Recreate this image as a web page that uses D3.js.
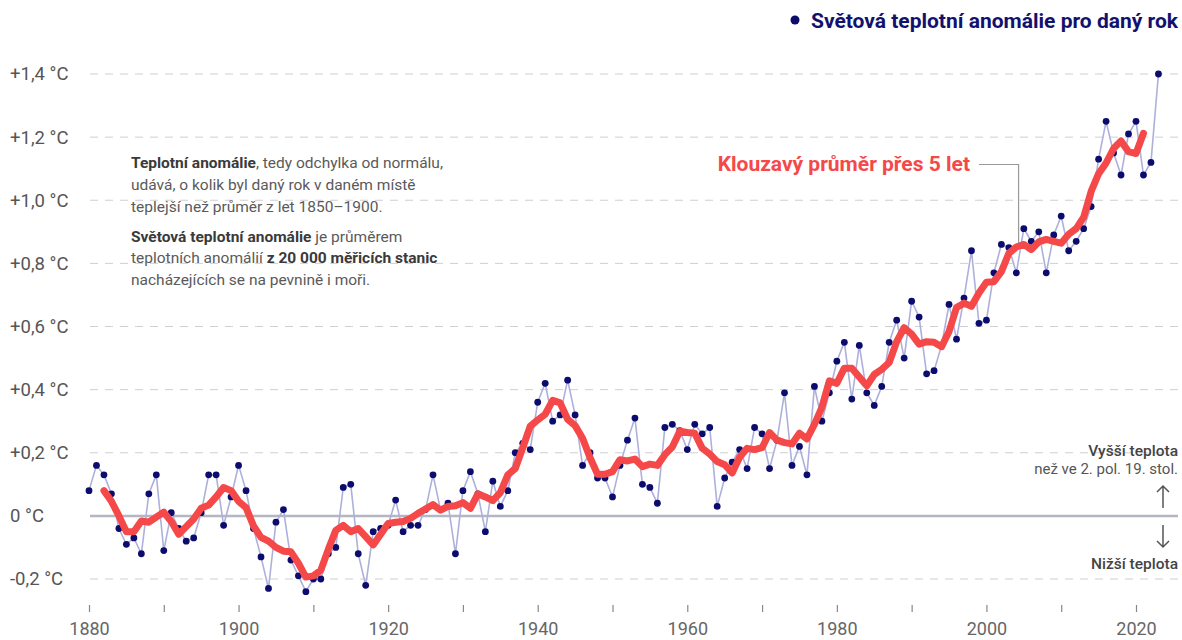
<!DOCTYPE html>
<html>
<head>
<meta charset="utf-8">
<script src="https://cdn.jsdelivr.net/npm/d3@7"></script>
<style>
  body { margin: 0; background: #fff; }
  svg { font-family: Roboto, "Noto Sans", sans-serif; }
</style>
</head>
<body>
<svg id="chart" width="1182" height="640"></svg>
<script>
// years of the annual series
var years = d3.range(1880, 2024);

// annual global anomaly (°C vs. 1850-1900)
var anomaly = [
  0.08, 0.16, 0.13, 0.07, -0.04, -0.09, -0.07, -0.12, 0.07, 0.13,
  -0.11, 0.01, -0.04, -0.08, -0.07, 0.01, 0.13, 0.13, -0.03, 0.06,
  0.16, 0.08, -0.04, -0.13, -0.23, -0.02, 0.02, -0.14, -0.19, -0.24,
  -0.20, -0.20, -0.12, -0.10, 0.09, 0.10, -0.12, -0.22, -0.05, -0.04,
  -0.03, 0.05, -0.05, -0.03, -0.03, 0.02, 0.13, 0.02, 0.04, -0.12,
  0.08, 0.14, 0.07, -0.05, 0.11, 0.03, 0.08, 0.20, 0.23, 0.21,
  0.36, 0.42, 0.30, 0.32, 0.43, 0.32, 0.16, 0.20, 0.12, 0.12,
  0.06, 0.16, 0.24, 0.31, 0.10, 0.09, 0.04, 0.28, 0.29, 0.27,
  0.21, 0.29, 0.26, 0.28, 0.03, 0.12, 0.17, 0.21, 0.15, 0.28,
  0.26, 0.15, 0.24, 0.39, 0.16, 0.22, 0.13, 0.41, 0.30, 0.39,
  0.49, 0.55, 0.37, 0.54, 0.39, 0.35, 0.41, 0.55, 0.62, 0.50,
  0.68, 0.63, 0.45, 0.46, 0.54, 0.67, 0.56, 0.69, 0.84, 0.61,
  0.62, 0.77, 0.86, 0.85, 0.77, 0.91, 0.87, 0.90, 0.77, 0.89,
  0.95, 0.84, 0.87, 0.91, 0.98, 1.13, 1.25, 1.15, 1.08, 1.21,
  1.25, 1.08, 1.12, 1.40
];

// 5-year running mean, 1882-2021
var avgYears = d3.range(1882, 2022);
var avg5 = [
  0.080, 0.046, 0.000, -0.050, -0.050, -0.016, -0.020, -0.004, 0.012, -0.018,
  -0.058, -0.034, -0.010, 0.024, 0.034, 0.060, 0.090, 0.080, 0.046, 0.026,
  -0.032, -0.068, -0.080, -0.100, -0.112, -0.114, -0.150, -0.194, -0.190, -0.172,
  -0.106, -0.046, -0.030, -0.050, -0.040, -0.066, -0.092, -0.058, -0.024, -0.020,
  -0.018, -0.008, 0.008, 0.022, 0.036, 0.018, 0.030, 0.032, 0.042, 0.024,
  0.070, 0.060, 0.048, 0.074, 0.130, 0.150, 0.216, 0.284, 0.304, 0.322,
  0.366, 0.358, 0.306, 0.286, 0.246, 0.184, 0.132, 0.132, 0.140, 0.178,
  0.174, 0.180, 0.156, 0.164, 0.160, 0.194, 0.218, 0.268, 0.264, 0.262,
  0.214, 0.196, 0.172, 0.162, 0.136, 0.186, 0.214, 0.210, 0.216, 0.264,
  0.240, 0.232, 0.228, 0.262, 0.244, 0.290, 0.344, 0.428, 0.420, 0.468,
  0.468, 0.440, 0.412, 0.448, 0.464, 0.486, 0.552, 0.596, 0.576, 0.544,
  0.552, 0.550, 0.536, 0.584, 0.660, 0.674, 0.664, 0.706, 0.740, 0.742,
  0.774, 0.832, 0.852, 0.860, 0.844, 0.868, 0.876, 0.870, 0.864, 0.892,
  0.910, 0.946, 1.028, 1.084, 1.118, 1.164, 1.188, 1.154, 1.148, 1.212
];

var yTicks = [-0.2, 0, 0.2, 0.4, 0.6, 0.8, 1.0, 1.2, 1.4];
var xTicks = d3.range(1880, 2021, 10);
var xLabels = [1880, 1900, 1920, 1940, 1960, 1980, 2000, 2020];

var svg = d3.select("#chart");

var x = d3.scaleLinear().domain([1880, 2020]).range([89, 1136]);
var y = d3.scaleLinear().domain([-0.2, 1.4]).range([579, 74]);

var gridLeft = 90, gridRight = 1178;

// grid lines
svg.append("g")
  .selectAll("line")
  .data(yTicks.filter(function(d) { return d !== 0; }))
  .enter()
  .append("line")
  .attr("x1", gridLeft)
  .attr("x2", gridRight)
  .attr("y1", function(d) { return y(d); })
  .attr("y2", function(d) { return y(d); })
  .attr("stroke", "#cfcfd4")
  .attr("stroke-width", 1)
  .attr("stroke-dasharray", "8,7");

// zero line
svg.append("line")
  .attr("x1", gridLeft)
  .attr("x2", gridRight)
  .attr("y1", y(0))
  .attr("y2", y(0))
  .attr("stroke", "#b4b6c2")
  .attr("stroke-width", 2.5);

// y labels
var fmtY = function(d) {
  if (d === 0) return "0 °C";
  var s = Math.abs(d).toFixed(1).replace(".", ",");
  return (d > 0 ? "+" : "-") + s + " °C";
};
svg.append("g")
  .selectAll("text")
  .data(yTicks)
  .enter()
  .append("text")
  .attr("x", 10)
  .attr("y", function(d) { return y(d); })
  .attr("dy", "0.35em")
  .style("font-size", "18.5px")
  .style("fill", "#555")
  .text(fmtY);

// x axis
var xAxis = d3.axisBottom(x)
  .tickValues(xTicks)
  .tickSize(7)
  .tickFormat(function(d) { return xLabels.indexOf(d) >= 0 ? d : ""; });
var gx = svg.append("g")
  .attr("transform", "translate(0,605)")
  .call(xAxis);
gx.select(".domain").remove();
gx.selectAll(".tick line").attr("stroke", "#888").attr("stroke-width", 1.2);
gx.selectAll(".tick text")
  .attr("y", 17)
  .style("font-size", "18px")
  .style("font-family", "Roboto, sans-serif")
  .style("fill", "#666");

// annual line + dots
var line = d3.line()
  .x(function(d, i) { return x(years[i]); })
  .y(function(d) { return y(d); });

svg.append("path")
  .datum(anomaly)
  .attr("d", line)
  .attr("fill", "none")
  .attr("stroke", "#aeb0dc")
  .attr("stroke-width", 1.6);

svg.append("g")
  .selectAll("circle")
  .data(anomaly)
  .enter()
  .append("circle")
  .attr("cx", function(d, i) { return x(years[i]); })
  .attr("cy", function(d) { return y(d); })
  .attr("r", 3.4)
  .attr("fill", "#0c0c6e");

// running mean
var avgLine = d3.line()
  .x(function(d, i) { return x(avgYears[i]); })
  .y(function(d) { return y(d); });

svg.append("path")
  .datum(avg5)
  .attr("d", avgLine)
  .attr("fill", "none")
  .attr("stroke", "#f54848")
  .attr("stroke-width", 7)
  .attr("stroke-linejoin", "round")
  .attr("stroke-linecap", "round");

// legend top right
svg.append("circle")
  .attr("cx", 795)
  .attr("cy", 20)
  .attr("r", 4.5)
  .attr("fill", "#0c0c6e");
svg.append("text")
  .attr("x", 1178)
  .attr("y", 28)
  .attr("text-anchor", "end")
  .style("font-size", "21px")
  .style("font-weight", "bold")
  .style("fill", "#12126e")
  .text("Světová teplotní anomálie pro daný rok");

// running mean label + leader
svg.append("text")
  .attr("x", 970)
  .attr("y", 171)
  .attr("text-anchor", "end")
  .style("font-size", "21px")
  .style("font-weight", "bold")
  .style("fill", "#f54848")
  .text("Klouzavý průměr přes 5 let");
svg.append("path")
  .attr("d", "M979," + 164.5 + "H" + x(2004.3) + "V" + (y(avg5[2004 - 1882]) - 4))
  .attr("fill", "none")
  .attr("stroke", "#999")
  .attr("stroke-width", 1.2);

// explanatory text
var notes = [
  [["Teplotní anomálie", true], [", tedy odchylka od normálu,", false]],
  [["udává, o kolik byl daný rok v daném místě", false]],
  [["teplejší než průměr z let 1850–1900.", false]],
  [["Světová teplotní anomálie", true], [" je průměrem", false]],
  [["teplotních anomálií ", false], ["z 20 000 měřicích stanic", true]],
  [["nacházejících se na pevnině i moři.", false]]
];
var noteY = [168, 190, 211.5, 241.5, 263, 285];
notes.forEach(function(parts, i) {
  var t = svg.append("text")
    .attr("x", 131)
    .attr("y", noteY[i])
    .style("font-size", "15.5px")
    .style("fill", "#5a5a5a");
  parts.forEach(function(p) {
    t.append("tspan")
      .style("font-weight", p[1] ? "bold" : "normal")
      .style("fill", p[1] ? "#3a3a3a" : "#5a5a5a")
      .text(p[0]);
  });
});

// right side annotation
svg.append("text")
  .attr("x", 1178).attr("y", 456)
  .attr("text-anchor", "end")
  .style("font-size", "15.5px")
  .style("font-weight", "500")
  .style("fill", "#444")
  .text("Vyšší teplota");
svg.append("text")
  .attr("x", 1178).attr("y", 474)
  .attr("text-anchor", "end")
  .style("font-size", "15px")
  .style("fill", "#555")
  .text("než ve 2. pol. 19. stol.");

// arrows
var ax = 1163;
svg.append("path")
  .attr("d", "M" + ax + ",508V486M" + (ax - 6) + ",492L" + ax + ",486L" + (ax + 6) + ",492")
  .attr("fill", "none")
  .attr("stroke", "#555")
  .attr("stroke-width", 1.5);
svg.append("path")
  .attr("d", "M" + ax + ",525V547M" + (ax - 6) + ",541L" + ax + ",547L" + (ax + 6) + ",541")
  .attr("fill", "none")
  .attr("stroke", "#555")
  .attr("stroke-width", 1.5);

svg.append("text")
  .attr("x", 1178).attr("y", 569)
  .attr("text-anchor", "end")
  .style("font-size", "15.5px")
  .style("font-weight", "500")
  .style("fill", "#444")
  .text("Nižší teplota");
</script>
</body>
</html>
